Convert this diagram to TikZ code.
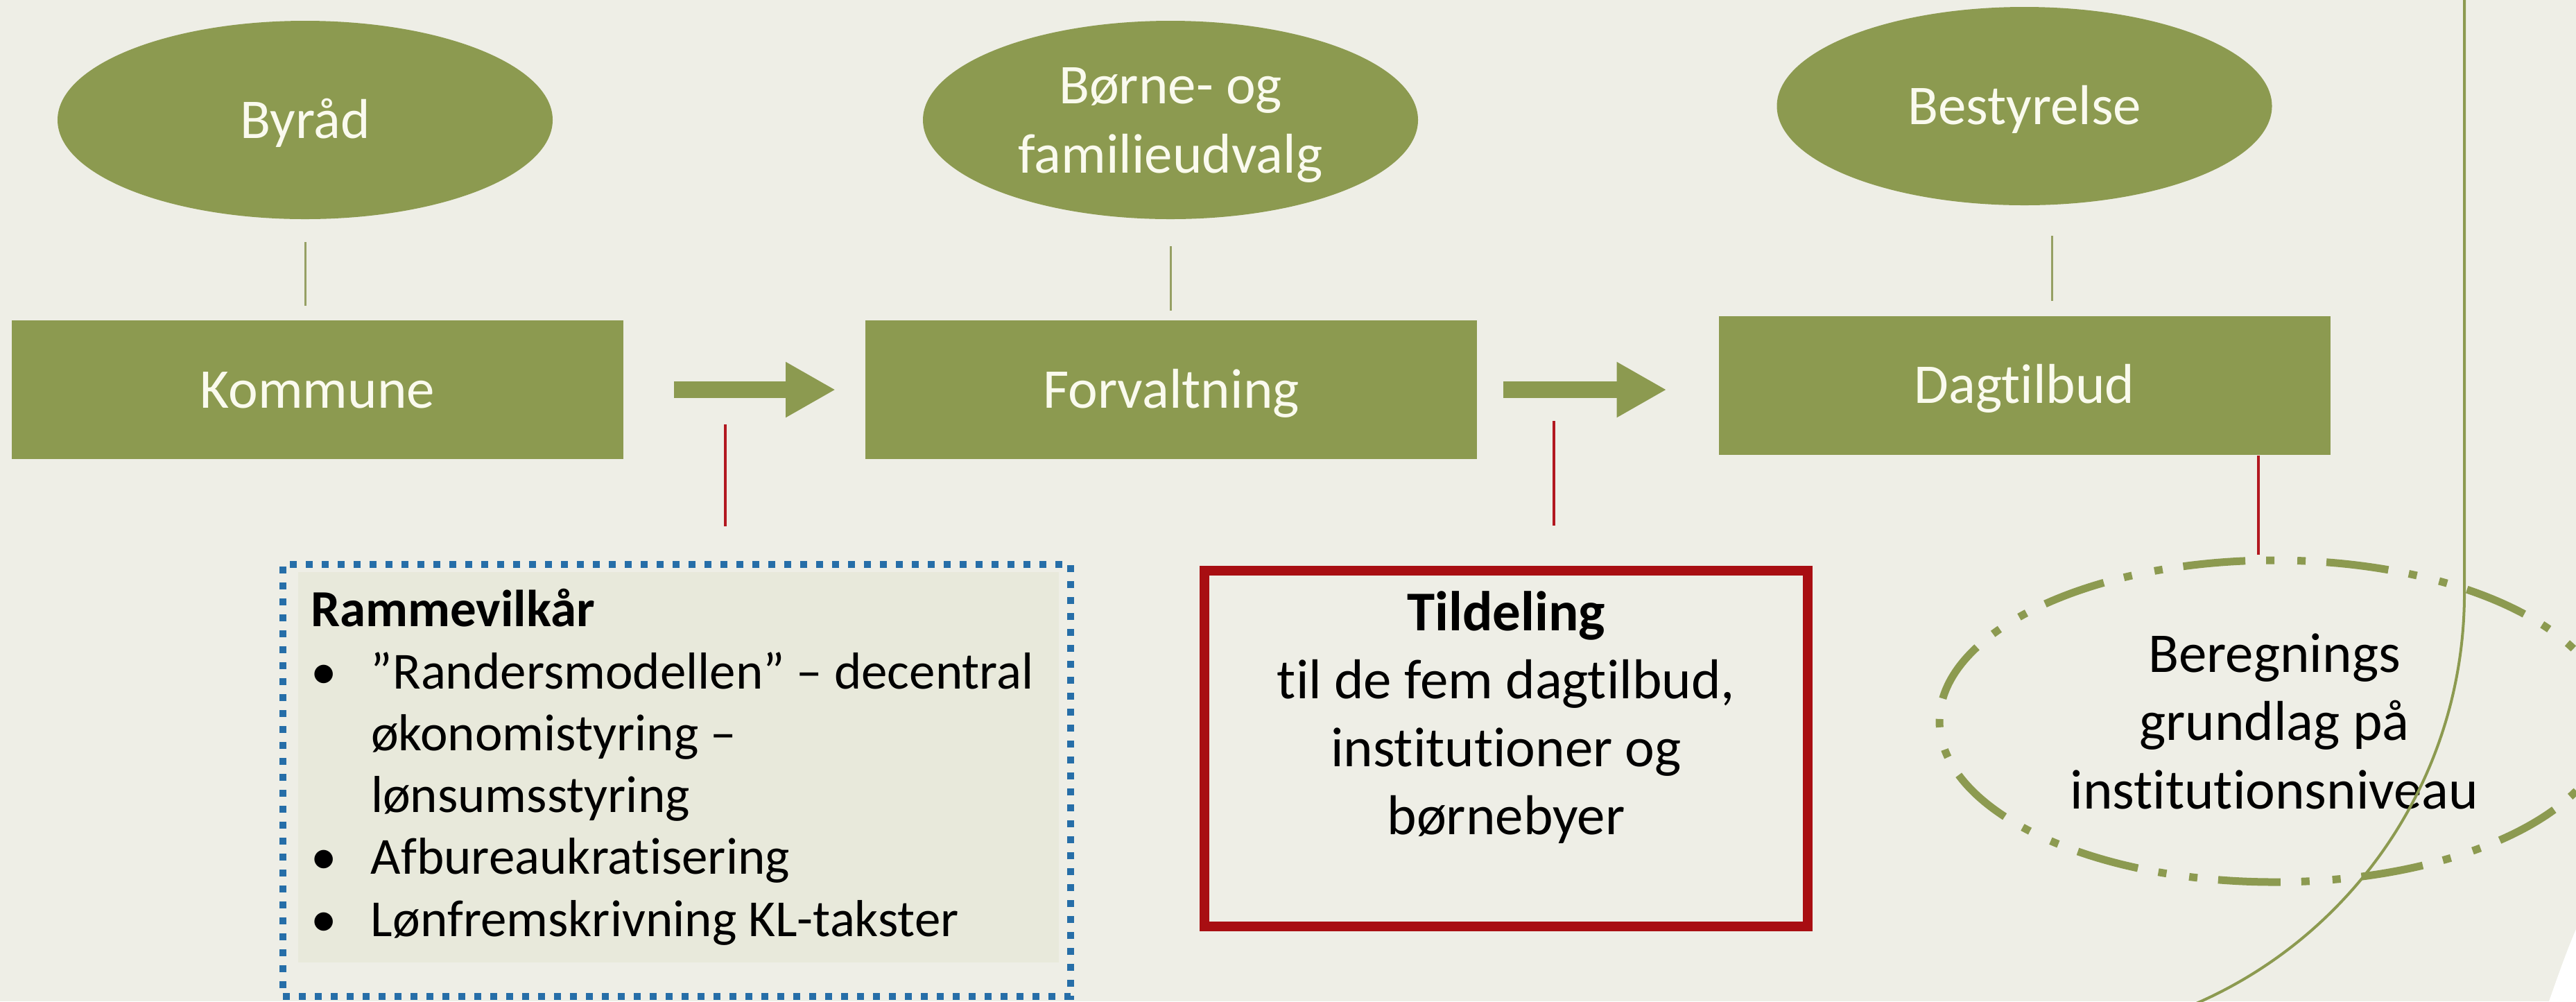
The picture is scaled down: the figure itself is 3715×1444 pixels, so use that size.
\documentclass[tikz,border=0pt]{standalone}
\usepackage{fontspec}
\setmainfont{Carlito}[Ligatures=NoCommon]
\usetikzlibrary{arrows.meta,shapes.geometric,calc}
\definecolor{bg}{RGB}{238,238,230}
\definecolor{olive}{RGB}{140,154,80}
\definecolor{cream}{RGB}{250,250,238}
\definecolor{boxfill}{RGB}{232,233,219}
\definecolor{dotblue}{RGB}{38,110,168}
\definecolor{darkred}{RGB}{168,14,18}
\definecolor{linered}{RGB}{178,24,32}
\definecolor{thingreen}{RGB}{150,160,100}
\begin{document}
\begin{tikzpicture}[x=0.2pt,y=-0.2pt,
  greenell/.style={ellipse, fill=olive, minimum width=142.8pt, minimum height=57.2pt,
    inner sep=0pt, text=cream, font=\fontsize{16.2pt}{20pt}\selectfont, align=center},
  greenbox/.style={rectangle, fill=olive, minimum width=176.4pt, minimum height=40pt,
    inner sep=0pt, text=cream, font=\fontsize{16.2pt}{20pt}\selectfont},
  oneline/.style={text height=10.4pt, text depth=0pt},
  vconn/.style={draw=thingreen, line width=0.6pt},
  redconn/.style={draw=linered, line width=0.8pt},
  blockarrow/.style={draw=olive, line width=4.8pt, -{Triangle[length=14.4pt,width=15pt]}},
  rambox/.style={rectangle, draw=dotblue, line width=2pt, dash pattern=on 2pt off 2.6pt,
    minimum width=227.2pt, minimum height=124.6pt, inner sep=0pt},
  tildbox/.style={rectangle, draw=darkred, line width=2.8pt,
    minimum width=174pt, minimum height=102.6pt, inner sep=0pt},
  beregell/.style={ellipse, draw=olive, line width=2.2pt,
    dash pattern=on 18pt off 6pt on 2.4pt off 6.6pt on 2.4pt off 6pt,
    minimum width=193.2pt, minimum height=92.8pt, inner sep=0pt,
    font=\fontsize{16.2pt}{19.7pt}\selectfont, align=center},
  bodytext/.style={inner sep=0pt, text=black}
]
\useasboundingbox (0,0) rectangle (3715,1444);
\clip (0,0) rectangle (3715,1444);
\fill[bg] (0,0) rectangle (3715,1444);
\fill[white] (3715,1340) .. controls (3700,1375) and (3688,1410) .. (3676,1444) -- (3715,1444) -- cycle;

% top ellipses
\node[greenell, oneline] (byrad) at (440,173) {Byråd};
\node[greenell, text height=30.4pt, text depth=0pt] (borne) at (1688,173) {Børne- og\\familieudvalg};
\node[greenell, oneline] (best) at (2919.5,153) {Bestyrelse};

% rectangles
\node[greenbox, oneline] (kommune) at (458,562) {Kommune};
\node[greenbox, oneline] (forv) at (1689,562) {Forvaltning};
\node[greenbox, oneline] (dag) at (2919.5,555.5) {Dagtilbud};

% vertical green connectors
\draw[vconn, shorten <=6.4pt, shorten >=4pt] (byrad.south) -- (byrad.south |- kommune.north);
\draw[vconn, shorten <=7.6pt, shorten >=2.6pt] (borne.south) -- (borne.south |- forv.north);
\coordinate (bs) at ($(best.south)+(40,0)$);
\draw[vconn, shorten <=8.6pt, shorten >=4.2pt] (bs) -- (bs |- dag.north);

% block arrows
\draw[blockarrow, shorten <=14.4pt, shorten >=8.4pt] (kommune.east) -- (forv.west);
\draw[blockarrow, shorten <=7.4pt, shorten >=14.8pt] (forv.east) -- (forv.east -| dag.west);

% Rammevilkaar box
\fill[boxfill] (430,825) rectangle (1527,1388);
\node[rambox] (ramme) at (976,1125.5) {};
\node[bodytext, anchor=base west, align=left, font=\fontsize{15pt}{17.85pt}\selectfont] (rtext) at (447,1350)
{\textbf{Rammevilkår}\\
\makebox[17.4pt][l]{•}”Randersmodellen” – decentral\\
\makebox[17.4pt]{}økonomistyring –\\
\makebox[17.4pt]{}lønsumsstyring\\
\makebox[17.4pt][l]{•}Afbureaukratisering\\
\makebox[17.4pt][l]{•}Lønfremskrivning KL-takster};

% Tildeling box
\node[tildbox] (tild) at (2172,1079.5) {};
\node[bodytext, anchor=base, align=center, font=\fontsize{16.2pt}{19.6pt}\selectfont] (ttext) at (2172,1203)
{\textbf{Tildeling}\\til de fem dagtilbud,\\institutioner og\\børnebyer};

% Beregnings ellipse
\node[beregell] (bereg) at (3280,1040) {Beregnings\\grundlag på\\institutionsniveau};

% red connectors
\coordinate (r1) at (1046,612);
\draw[redconn, shorten >=10pt] (r1) -- (r1 |- ramme.north);
\coordinate (r2) at (2241,607);
\draw[redconn, shorten >=11.6pt] (r2) -- (r2 |- tild.north);
\coordinate (r3) at ($(dag.south east)+(-105,0)$);
\draw[redconn, shorten >=0.6pt] (r3) -- (r3 |- bereg.north);

% right border line
\draw[olive, line width=0.8pt] (3554,0) -- (3554,856) arc[start angle=0, end angle=70, radius=645];
\end{tikzpicture}
\end{document}
